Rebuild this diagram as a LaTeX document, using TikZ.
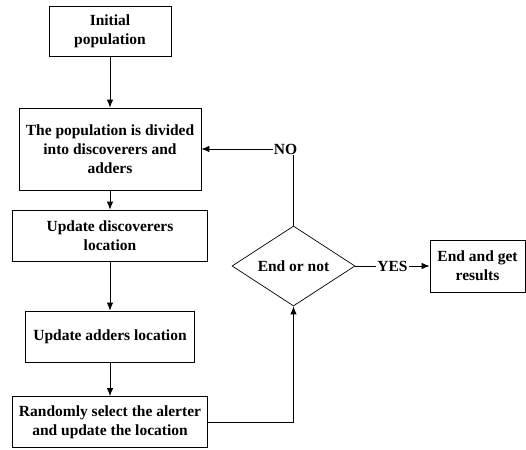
\documentclass[tikz,border=0pt]{standalone}
\usepackage{fontspec}
\setmainfont{Liberation Serif}
\usetikzlibrary{arrows.meta,shapes.geometric,positioning}

\begin{document}
\begin{tikzpicture}[x=1pt,y=-1pt,->,>={Latex[length=8pt,width=6.5pt]},line width=1pt,
                    font=\fontsize{15.5}{19}\selectfont\bfseries]
  \tikzstyle{block}=[draw=black,line width=0.7pt,rectangle,align=center,inner sep=0pt]
  \tikzstyle{decision}=[draw=black,line width=0.7pt,diamond,aspect=1.54,inner sep=0pt]
  \tikzstyle{lbl}=[fill=white,inner sep=1pt]
  \useasboundingbox (0,0) rectangle (526,449);

  \node[block,minimum width=122pt,minimum height=50pt] (init) at (110,31) {Initial\\population};
  \node[block,minimum width=182pt,minimum height=82pt] (div)  at (110,149) {The population is divided\\into discoverers and\\adders};
  \node[block,minimum width=195pt,minimum height=51pt] (disc) at (110,235.5) {Update discoverers\\location};
  \node[block,minimum width=169pt,minimum height=51pt] (add)  at (110,336.5) {Update adders location};
  \node[block,minimum width=195pt,minimum height=51pt] (rand) at (110,422) {Randomly select the alerter\\and update the location};
  \node[decision,minimum width=123pt,minimum height=80pt] (dec) at (293.5,266) {End or not};
  \node[block,minimum width=95pt,minimum height=52pt] (end) at (477.5,266) {End and get\\results};

  \path (init) edge (div)
        (div)  edge (disc)
        (disc) edge (add)
        (add)  edge (rand)
        (dec)  edge node[lbl] {YES} (end);
  \draw (rand.east) -| (dec.south);
  \draw (dec.north) |- node[lbl,pos=0.5,xshift=-8pt] {NO} (div.east);
\end{tikzpicture}
\end{document}
